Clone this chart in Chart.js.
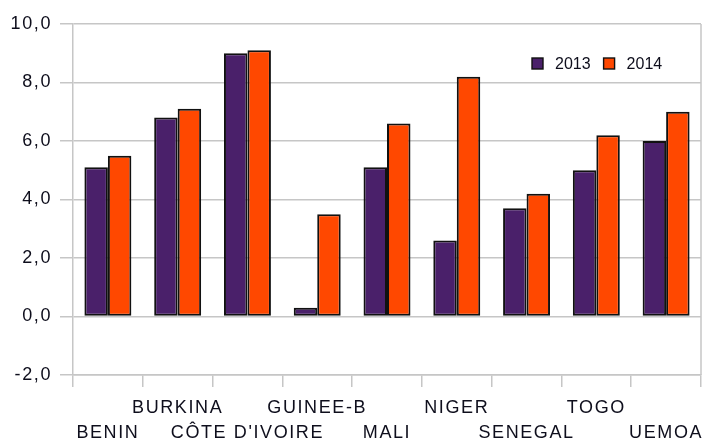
<!DOCTYPE html>
<html>
<head>
<meta charset="utf-8">
<script src="https://cdn.jsdelivr.net/npm/chart.js@4/dist/chart.umd.min.js"></script>
<style>
  html, body { margin: 0; padding: 0; background: #ffffff; }
  canvas { display: block; }
</style>
</head>
<body>
<canvas id="c" width="709" height="441"></canvas>
<script>
// Countries of the union plus the union aggregate
const categories = ['BENIN', 'BURKINA', "CÔTE D'IVOIRE", 'GUINEE-B', 'MALI', 'NIGER', 'SENEGAL', 'TOGO', 'UEMOA'];
// Values per year
const values2013 = [5.1, 6.8, 9.0, 0.3, 5.1, 2.6, 3.7, 5.0, 6.0];
const values2014 = [5.5, 7.1, 9.1, 3.5, 6.6, 8.2, 4.2, 6.2, 7.0];
// Value axis ticks
const yTicks = [-2, 0, 2, 4, 6, 8, 10];

const GRID = '#c6c6c6';
const TEXT = '#0e0e1c';
const PURPLE = '#4a206a';
const ORANGE = '#ff4800';

// Slightly tracked-out axis lettering
const spacingPlugin = {
  id: 'spacing',
  beforeDraw(chart) { chart.ctx.letterSpacing = '1.6px'; }
};

// Frame line on the right edge of the plot
const framePlugin = {
  id: 'frame',
  afterDatasetsDraw(chart) {
    const { ctx, chartArea } = chart;
    ctx.save();
    ctx.strokeStyle = GRID;
    ctx.lineWidth = 1.5;
    ctx.beginPath();
    ctx.moveTo(chartArea.right, chartArea.top);
    ctx.lineTo(chartArea.right, chartArea.bottom);
    ctx.stroke();
    ctx.restore();
  }
};

// Legend inside the plot, top right
const legendPlugin = {
  id: 'innerLegend',
  afterDraw(chart) {
    const { ctx, chartArea } = chart;
    ctx.save();
    ctx.letterSpacing = '0px';
    ctx.font = '16px "Liberation Sans", Arial, sans-serif';
    ctx.textBaseline = 'middle';
    ctx.textAlign = 'left';
    let x = chartArea.left + 459;
    const yMid = chartArea.top + 39.5;
    chart.data.datasets.forEach(ds => {
      ctx.fillStyle = ds.backgroundColor;
      ctx.strokeStyle = '#111';
      ctx.lineWidth = 1.4;
      ctx.fillRect(x, yMid - 5.5, 11, 11);
      ctx.strokeRect(x, yMid - 5.5, 11, 11);
      ctx.fillStyle = TEXT;
      ctx.fillText(ds.label, x + 23, yMid + 1);
      x += 23 + ctx.measureText(ds.label).width + 13;
    });
    ctx.restore();
  }
};

new Chart(document.getElementById('c'), {
  type: 'bar',
  data: {
    labels: categories,
    datasets: [
      { label: '2013', data: values2013, backgroundColor: PURPLE },
      { label: '2014', data: values2014, backgroundColor: ORANGE }
    ]
  },
  options: {
    responsive: false,
    animation: false,
    devicePixelRatio: 1,
    layout: { padding: { top: 24, right: 8, left: 0, bottom: 0 } },
    datasets: {
      bar: {
        categoryPercentage: 0.673,
        barPercentage: 1.0,
        borderColor: '#111111',
        borderWidth: 2,
        borderSkipped: false
      }
    },
    plugins: {
      legend: { display: false },
      tooltip: { enabled: false }
    },
    scales: {
      x: {
        offset: true,
        grid: {
          offset: true,
          drawOnChartArea: false,
          drawTicks: true,
          tickLength: 12,
          color: GRID,
          lineWidth: 1.5
        },
        border: { display: true, color: GRID, width: 1.5 },
        ticks: {
          autoSkip: false,
          maxRotation: 0,
          minRotation: 0,
          padding: 9,
          color: TEXT,
          font: { family: '"Liberation Sans", Arial, sans-serif', size: 18, lineHeight: '25px' },
          callback: (v, i) => (i % 2 === 0 ? ['', categories[i]] : [categories[i], ''])
        },
        afterFit(scale) { scale.height = 66; }
      },
      y: {
        min: yTicks[0],
        max: yTicks[yTicks.length - 1],
        afterBuildTicks(scale) { scale.ticks = yTicks.map(v => ({ value: v })); },
        grid: {
          color: GRID,
          lineWidth: 1.5,
          drawTicks: true,
          tickLength: 13
        },
        border: { display: true, color: GRID, width: 1.5 },
        ticks: {
          padding: 8,
          color: TEXT,
          font: { family: '"Liberation Sans", Arial, sans-serif', size: 18 },
          callback: v => v.toFixed(1).replace('.', ',')
        },
        afterFit(scale) { scale.width = 73; }
      }
    }
  },
  plugins: [spacingPlugin, framePlugin, legendPlugin]
});
</script>
</body>
</html>
